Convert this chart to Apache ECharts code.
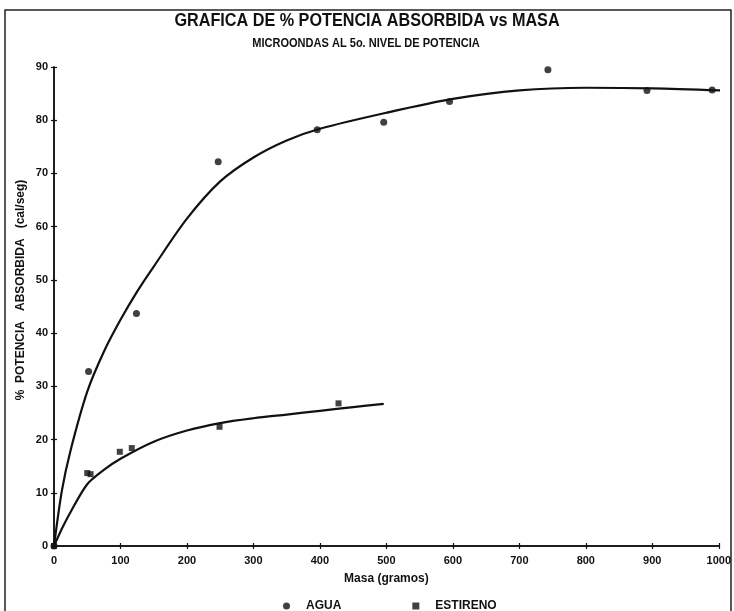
<!DOCTYPE html>
<html>
<head>
<meta charset="utf-8">
<script src="https://cdn.jsdelivr.net/npm/echarts@6/dist/echarts.min.js"></script>
<style>html,body{margin:0;padding:0;background:#fff}#c{width:734px;height:611px}</style>
</head>
<body>
<div id="c"></div>
<script>
const titleText = 'GRAFICA DE % POTENCIA ABSORBIDA vs MASA';
const subtitleText = 'MICROONDAS AL 5o. NIVEL DE POTENCIA';
const xName = 'Masa (gramos)';
const yName = '%  POTENCIA   ABSORBIDA   (cal/seg)';
const seriesNames = ['AGUA', 'ESTIRENO'];

// Measured points
const aguaX = [0, 52, 124, 247, 396, 496, 595, 743, 892, 990];
const aguaY = [0, 32.8, 43.7, 72.2, 78.2, 79.6, 83.5, 89.5, 85.6, 85.7];
const estX = [0, 50, 55, 99, 117, 249, 428];
const estY = [0, 13.7, 13.5, 17.7, 18.4, 22.4, 26.8];

// Fitted curves
const aguaFitX = [0, 12, 25, 50, 75, 100, 125, 150, 200, 250, 300, 350, 400, 500, 600, 700, 800, 900, 1005];
const aguaFitY = [0, 10.5, 18, 29, 36.5, 42.5, 47.8, 52.5, 61.5, 68.5, 73, 76.2, 78.4, 81.4, 84, 85.6, 86.1, 86, 85.6];
const estFitX = [0, 12, 25, 50, 75, 100, 150, 200, 250, 300, 350, 400, 450, 496];
const estFitY = [0, 3.3, 6.4, 11.6, 14.3, 16.4, 19.6, 21.7, 23.1, 24, 24.7, 25.4, 26.1, 26.7];

const zip = (a, b) => a.map((v, i) => [v, b[i]]);
const FB = "'Liberation Sans',Arial,sans-serif";

const chart = echarts.init(document.getElementById('c'), null, {renderer: 'canvas'});
const axisBase = {
  min: 0,
  axisLine: {show: true, lineStyle: {color: '#111', width: 1.5}},
  splitLine: {show: false}
};
chart.setOption({
  backgroundColor: '#fff',
  animation: false,
  graphic: [
    {type: 'rect', shape: {x: 5, y: 10, width: 726, height: 620},
     style: {fill: null, stroke: '#222', lineWidth: 1.5}, silent: true},
    {type: 'text', x: 367, y: 21, scaleX: 0.9,
     style: {text: titleText, font: "bold 18px " + FB, fill: '#111',
             textAlign: 'center', textVerticalAlign: 'middle'}},
    {type: 'text', x: 366, y: 44, scaleX: 0.92,
     style: {text: subtitleText, font: "bold 12px " + FB, fill: '#111',
             textAlign: 'center', textVerticalAlign: 'middle'}},
    {type: 'text', x: 21, y: 290, rotation: Math.PI / 2,
     style: {text: yName, font: "bold 12px " + FB, fill: '#111',
             textAlign: 'center', textVerticalAlign: 'middle'}}
  ],
  legend: {
    left: 278, top: 595,
    itemWidth: 7, itemHeight: 7, itemGap: 71,
    data: [{name: seriesNames[0], icon: 'circle'}, {name: seriesNames[1], icon: 'rect'}],
    textStyle: {fontFamily: FB, fontWeight: 'bold', fontSize: 12, color: '#111', padding: [0, 0, 0, 11]}
  },
  grid: {left: 54, right: 13, top: 67, bottom: 65},
  xAxis: [
    Object.assign({}, axisBase, {
      type: 'value', max: 1000, interval: 100,
      name: xName, nameLocation: 'middle', nameGap: 27,
      nameTextStyle: {fontFamily: FB, fontWeight: 'bold', fontSize: 12, color: '#111'},
      axisTick: {show: true, inside: false, length: 3, lineStyle: {color: '#111', width: 1.2}},
      axisLabel: {margin: 9, fontFamily: FB, fontWeight: 'bold', fontSize: 11, color: '#111',
                  formatter: v => String(v)}
    }),
    Object.assign({}, axisBase, {
      type: 'value', max: 1000, interval: 100, position: 'bottom',
      axisTick: {show: true, inside: true, length: 3, lineStyle: {color: '#111', width: 1.2}},
      axisLabel: {show: false}
    })
  ],
  yAxis: [
    Object.assign({}, axisBase, {
      type: 'value', max: 90, interval: 10,
      axisTick: {show: true, inside: false, length: 3, lineStyle: {color: '#111', width: 1.2}},
      axisLabel: {margin: 6, fontFamily: FB, fontWeight: 'bold', fontSize: 11, color: '#111'}
    }),
    Object.assign({}, axisBase, {
      type: 'value', max: 90, interval: 10, position: 'left',
      axisTick: {show: true, inside: true, length: 3, lineStyle: {color: '#111', width: 1.2}},
      axisLabel: {show: false}
    })
  ],
  series: [
    {name: seriesNames[0], type: 'scatter', data: zip(aguaX, aguaY),
     symbol: 'circle', symbolSize: 7, itemStyle: {color: '#111'}, z: 5},
    {name: seriesNames[1], type: 'scatter', data: zip(estX, estY),
     symbol: 'rect', symbolSize: 6, itemStyle: {color: '#111'}, z: 5},
    {name: 'fitAgua', type: 'line', data: zip(aguaFitX, aguaFitY), smooth: 0.3,
     showSymbol: false, lineStyle: {color: '#111', width: 2.2}, silent: true},
    {name: 'fitEst', type: 'line', data: zip(estFitX, estFitY), smooth: 0.3,
     showSymbol: false, lineStyle: {color: '#111', width: 2.2}, silent: true}
  ]
});
</script>
</body>
</html>
